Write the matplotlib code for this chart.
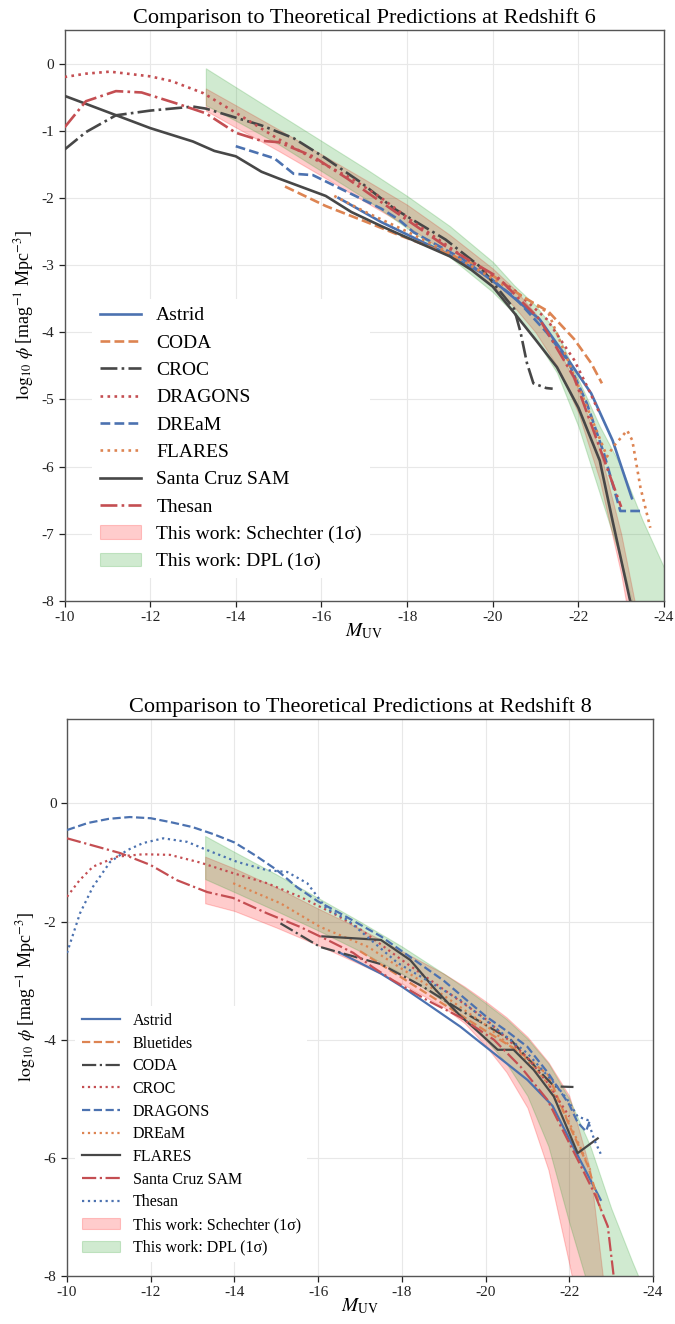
import matplotlib
matplotlib.use("Agg")
import matplotlib.pyplot as plt
import numpy as np

plt.rcParams['font.family'] = ['Liberation Serif', 'DejaVu Serif']
plt.rcParams['mathtext.fontset'] = 'stix'
plt.rcParams['axes.unicode_minus'] = False

BLUE = '#4C72B0'
ORANGE = '#DD8452'
RED = '#C44E52'
DARK = '#474747'

# ---------------- Redshift 6 data ----------------
z6_astrid_M = [-16.4, -17.4, -18.9, -19.9, -21.1, -21.7, -22.3, -22.8, -23.25]
z6_astrid_phi = [-2.0, -2.36, -2.82, -3.17, -3.81, -4.35, -4.91, -5.61, -6.47]
z6_coda_M = [-15.15, -16.1, -17.1, -17.8, -18.5, -19.7, -20.7, -21.3, -21.9, -22.3, -22.55]
z6_coda_phi = [-1.83, -2.12, -2.37, -2.55, -2.72, -3.02, -3.47, -3.69, -4.1, -4.46, -4.76]
z6_croc_M = [-10, -10.5, -11.2, -12, -13, -13.3, -14.6, -15.35, -16.1, -16.9, -17.7, -18.9,
             -19.7, -20.5, -20.65, -20.8, -20.95, -21.25, -21.4]
z6_croc_phi = [-1.28, -1.02, -0.77, -0.70, -0.64, -0.67, -0.92, -1.11, -1.41, -1.76, -2.16, -2.62,
               -3.02, -3.65, -4.0, -4.46, -4.76, -4.83, -4.84]
z6_dragons_M = [-10, -10.5, -11.06, -12, -12.5, -13.24, -14.1, -14.96, -15.8, -16.7, -17.4, -18.15,
                -19.3, -20.5, -21.27, -21.9, -22.2, -22.5]
z6_dragons_phi = [-0.2, -0.15, -0.12, -0.19, -0.26, -0.44, -0.77, -1.11, -1.41, -1.71, -2.0, -2.36,
                  -2.87, -3.37, -3.81, -4.41, -4.8, -5.21]
z6_dream_M = [-14.0, -14.9, -15.35, -15.8, -16.6, -17.4, -17.8, -18.15, -19.3, -20.5, -21.27,
              -21.74, -22.2, -22.6, -22.98, -23.5]
z6_dream_phi = [-1.23, -1.41, -1.64, -1.66, -1.91, -2.16, -2.32, -2.51, -2.91, -3.47, -4.01,
                -4.41, -5.06, -5.81, -6.66, -6.66]
z6_flares_M = [-16.3, -17.0, -18.0, -18.9, -20.0, -21.3, -22.04, -22.67, -22.82, -23.14, -23.26, -23.45, -23.68]
z6_flares_phi = [-1.97, -2.2, -2.5, -2.79, -3.2, -3.71, -4.86, -5.85, -5.7, -5.46, -5.61, -6.31, -6.91]
z6_scsam_M = [-10, -10.67, -12, -12.7, -13, -13.5, -14, -14.6, -15, -16.1, -16.7, -17.4, -18, -19,
              -19.5, -20, -20.5, -21, -21.5, -22, -22.5, -22.8, -23.2, -23.4]
z6_scsam_phi = [-0.48, -0.64, -0.96, -1.10, -1.16, -1.30, -1.38, -1.61, -1.71, -1.97, -2.21, -2.42,
                -2.59, -2.87, -3.07, -3.32, -3.71, -4.11, -4.52, -5.12, -5.91, -6.81, -7.97, -8.4]
z6_thesan_M = [-10, -10.5, -11.2, -11.8, -12.6, -13.3, -14.0, -14.6, -15.0, -15.8, -16.6, -17.8,
               -18.9, -20.1, -21.1, -21.9, -22.5, -23.0]
z6_thesan_phi = [-0.95, -0.56, -0.41, -0.43, -0.59, -0.74, -1.03, -1.15, -1.17, -1.38, -1.71, -2.24,
                 -2.72, -3.17, -3.81, -4.67, -5.72, -6.6]

z6_band_M = [-13.3, -14, -15, -16, -17, -18, -19, -20, -20.5, -21, -21.5, -22, -22.5, -23, -23.5, -24]
z6_dpl_hi = [-0.07, -0.35, -0.75, -1.15, -1.55, -1.97, -2.42, -2.95, -3.3, -3.6, -4.0, -4.7, -5.4, -6.0, -6.8, -7.5]
z6_dpl_lo = [-0.62, -0.85, -1.2, -1.6, -2.0, -2.45, -2.88, -3.4, -3.72, -4.1, -4.6, -5.4, -6.4, -7.4, -8.6, -9.8]
z6_sch_hi = [-0.37, -0.62, -0.98, -1.35, -1.72, -2.1, -2.55, -3.05, -3.35, -3.72, -4.2, -4.85, -5.75, -7.0, -8.6, -10.5]
z6_sch_lo = [-0.7, -0.95, -1.3, -1.67, -2.05, -2.42, -2.85, -3.3, -3.62, -4.0, -4.5, -5.2, -6.2, -7.6, -9.4, -11.5]

# ---------------- Redshift 8 data ----------------
z8_astrid_M = [-16.5, -17, -17.5, -18, -18.6, -19.4, -20.2, -21.0, -21.6, -22.1, -22.75]
z8_astrid_phi = [-2.52, -2.7, -2.88, -3.1, -3.39, -3.78, -4.23, -4.68, -5.12, -5.82, -6.71]
z8_bluetides_M = [-17, -18, -19, -20, -20.8, -21.5, -22, -22.45, -22.75]
z8_bluetides_phi = [-2.5, -2.95, -3.4, -3.85, -4.2, -4.6, -5.45, -6.14, -6.87]
z8_coda_M = [-15.1, -16.05, -17.5, -18.5, -19.4, -20.6, -21.24, -21.64, -22.1]
z8_coda_phi = [-2.03, -2.43, -2.72, -3.1, -3.5, -4.0, -4.5, -4.79, -4.8]
z8_croc_M = [-10, -10.3, -10.62, -11.2, -11.82, -12.46, -13.18, -13.97, -14.78, -15.57, -16.36,
             -16.93, -18, -19, -20, -21, -21.5, -22]
z8_croc_phi = [-1.58, -1.3, -1.07, -0.9, -0.86, -0.87, -1.0, -1.18, -1.35, -1.58, -1.86,
               -2.09, -2.65, -3.15, -3.65, -4.3, -4.75, -5.3]
z8_dragons_M = [-10, -10.5, -11, -11.5, -12, -12.5, -13, -13.5, -14, -14.5, -15, -15.5, -16, -16.5,
                -17, -17.5, -18, -18.5, -19, -19.5, -20, -20.5, -21, -21.5, -22, -22.2, -22.4, -22.5]
z8_dragons_phi = [-0.45, -0.33, -0.26, -0.23, -0.25, -0.32, -0.4, -0.52, -0.66, -0.88, -1.12, -1.42,
                  -1.66, -1.85, -2.05, -2.25, -2.5, -2.75, -3.0, -3.3, -3.6, -3.85, -4.12, -4.57,
                  -5.1, -5.4, -5.55, -5.35]
z8_dream_M = [-13.97, -15.1, -16.05, -17.2, -18, -19, -20, -21, -21.5, -22, -22.5]
z8_dream_phi = [-1.35, -1.69, -2.09, -2.43, -2.8, -3.25, -3.75, -4.35, -4.75, -5.4, -6.2]
z8_flares_M = [-16.1, -16.8, -17.5, -18.2, -18.8, -19.4, -19.8, -20.29, -20.67, -21.15, -21.63,
               -22.2, -22.68]
z8_flares_phi = [-2.25, -2.28, -2.31, -2.65, -3.15, -3.6, -3.85, -4.17, -4.17, -4.51, -4.96,
                 -5.92, -5.67]
z8_scsam_M = [-10, -11.27, -11.99, -12.63, -13.35, -13.97, -14.78, -15.57, -16.22, -16.84, -17.3,
              -17.8, -18.6, -19.4, -20.2, -20.84, -21.48, -21.8, -22.2, -22.6, -22.92, -23.06]
z8_scsam_phi = [-0.59, -0.84, -1.04, -1.3, -1.5, -1.6, -1.86, -2.09, -2.31, -2.53, -2.77,
                -3.0, -3.33, -3.62, -4.0, -4.46, -5.02, -5.47, -6.03, -6.6, -7.16, -8.0]
z8_thesan_M = [-10, -10.31, -10.62, -11.03, -11.44, -11.82, -12.3, -12.87, -13.35, -14.07, -14.78,
               -15.26, -15.74, -16.2, -16.7, -17.9, -19.4, -20.2, -21.0, -21.72, -21.96, -22.2,
               -22.44, -22.6, -22.75]
z8_thesan_phi = [-2.53, -1.86, -1.41, -0.99, -0.79, -0.67, -0.59, -0.65, -0.79, -0.99, -1.13,
                 -1.16, -1.35, -1.78, -1.97, -2.7, -3.33, -3.78, -4.23, -4.8, -5.02, -5.3,
                 -5.36, -5.7, -5.93]

z8_band_M = [-13.3, -14, -15, -16, -17, -18, -19, -19.5, -20, -20.5, -21, -21.5, -22, -22.5, -23, -23.5, -24]
z8_dpl_hi = [-0.55, -0.82, -1.2, -1.6, -2.0, -2.42, -2.88, -3.12, -3.38, -3.65, -3.98, -4.4, -5.0, -5.8, -6.85, -7.75, -8.6]
z8_dpl_lo = [-1.28, -1.5, -1.82, -2.15, -2.5, -2.88, -3.35, -3.65, -4.0, -4.4, -4.95, -5.8, -7.1, -8.3, -9.6, -11, -12.5]
z8_sch_hi = [-0.9, -1.1, -1.42, -1.78, -2.12, -2.5, -2.88, -3.1, -3.35, -3.62, -3.95, -4.38, -4.95, -6.2, -9.2, -12, -14]
z8_sch_lo = [-1.69, -1.82, -2.1, -2.4, -2.72, -3.05, -3.45, -3.72, -4.1, -4.55, -5.15, -6.2, -7.8, -9.5, -12, -14, -16]

xticks = [-10, -12, -14, -16, -18, -20, -22, -24]

fig = plt.figure(figsize=(6.75, 13.24), dpi=100)
ax1 = fig.add_axes([64.5 / 675, (1324 - 601) / 1324, (664 - 64.5) / 675, (601 - 30) / 1324])
ax2 = fig.add_axes([67 / 675, (1324 - 1276) / 1324, (653 - 67) / 675, (1276 - 719) / 1324])


def style_axes(ax, ylim, yticks, title):
    ax.set_xlim(-10, -24)
    ax.set_ylim(*ylim)
    ax.set_xticks(xticks)
    ax.set_xticklabels([str(t) for t in xticks])
    ax.set_yticks(yticks)
    ax.set_yticklabels([str(t) for t in yticks])
    ax.grid(True, color='#e8e8e8', lw=0.8, zorder=0)
    ax.set_axisbelow(True)
    ax.tick_params(direction='out', length=4, width=0.9, labelsize=11, colors='#222222',
                   top=False, right=False)
    for s in ax.spines.values():
        s.set_color('#555555')
        s.set_linewidth(1.0)
    ax.set_xlabel(r'$M_{\rm UV}$', fontsize=14, labelpad=-2)
    ax.set_ylabel(r'$\log_{10}\,\phi$ [mag$^{-1}$ Mpc$^{-3}$]', fontsize=13, labelpad=4)
    ax.set_title(title, fontsize=16, pad=5)


def add_legend(ax, anchor, fs, spacing, hl):
    hs, ls = ax.get_legend_handles_labels()
    order = list(range(2, len(hs))) + [0, 1]
    leg = ax.legend([hs[i] for i in order], [ls[i] for i in order], loc='upper left',
                    bbox_to_anchor=anchor, borderaxespad=0,
                    fontsize=fs, frameon=True, facecolor='white', edgecolor='none', framealpha=1,
                    handlelength=hl, handletextpad=0.8, labelspacing=spacing, borderpad=0.4)
    leg.set_zorder(5)
    return leg


# ---------- top panel ----------
lw1 = 1.9
ax1.fill_between(z6_band_M, z6_sch_lo, z6_sch_hi, color='red', alpha=0.2, lw=0.8,
                 label='This work: Schechter (1σ)', zorder=2)
ax1.fill_between(z6_band_M, z6_dpl_lo, z6_dpl_hi, color='tab:green', alpha=0.22, lw=0.8,
                 label='This work: DPL (1σ)', zorder=2)
ax1.plot(z6_astrid_M, z6_astrid_phi, color=BLUE, ls='-', lw=lw1, label='Astrid', zorder=3)
ax1.plot(z6_coda_M, z6_coda_phi, color=ORANGE, ls='--', lw=lw1, label='CODA', zorder=3)
ax1.plot(z6_croc_M, z6_croc_phi, color=DARK, ls='-.', lw=lw1, label='CROC', zorder=3)
ax1.plot(z6_dragons_M, z6_dragons_phi, color=RED, ls=':', lw=lw1, label='DRAGONS', zorder=3)
ax1.plot(z6_dream_M, z6_dream_phi, color=BLUE, ls='--', lw=lw1, label='DREaM', zorder=3)
ax1.plot(z6_flares_M, z6_flares_phi, color=ORANGE, ls=':', lw=lw1, label='FLARES', zorder=3)
ax1.plot(z6_scsam_M, z6_scsam_phi, color=DARK, ls='-', lw=lw1, label='Santa Cruz SAM', zorder=3)
ax1.plot(z6_thesan_M, z6_thesan_phi, color=RED, ls='-.', lw=lw1, label='Thesan', zorder=3)
style_axes(ax1, (-8, 0.5), [0, -1, -2, -3, -4, -5, -6, -7, -8],
           'Comparison to Theoretical Predictions at Redshift 6')
add_legend(ax1, (0.046, 0.529), 14, 0.5, 2.1)

# ---------- bottom panel ----------
lw2 = 1.6
ax2.fill_between(z8_band_M, z8_sch_lo, z8_sch_hi, color='red', alpha=0.2, lw=0.8,
                 label='This work: Schechter (1σ)', zorder=2)
ax2.fill_between(z8_band_M, z8_dpl_lo, z8_dpl_hi, color='tab:green', alpha=0.22, lw=0.8,
                 label='This work: DPL (1σ)', zorder=2)
ax2.plot(z8_astrid_M, z8_astrid_phi, color=BLUE, ls='-', lw=lw2, label='Astrid', zorder=3)
ax2.plot(z8_bluetides_M, z8_bluetides_phi, color=ORANGE, ls='--', lw=lw2, label='Bluetides', zorder=3)
ax2.plot(z8_coda_M, z8_coda_phi, color=DARK, ls='-.', lw=lw2, label='CODA', zorder=3)
ax2.plot(z8_croc_M, z8_croc_phi, color=RED, ls=':', lw=lw2, label='CROC', zorder=3)
ax2.plot(z8_dragons_M, z8_dragons_phi, color=BLUE, ls='--', lw=lw2, label='DRAGONS', zorder=3)
ax2.plot(z8_dream_M, z8_dream_phi, color=ORANGE, ls=':', lw=lw2, label='DREaM', zorder=3)
ax2.plot(z8_flares_M, z8_flares_phi, color=DARK, ls='-', lw=lw2, label='FLARES', zorder=3)
ax2.plot(z8_scsam_M, z8_scsam_phi, color=RED, ls='-.', lw=lw2, label='Santa Cruz SAM', zorder=3)
ax2.plot(z8_thesan_M, z8_thesan_phi, color=BLUE, ls=':', lw=lw2, label='Thesan', zorder=3)
style_axes(ax2, (-8, 1.43), [0, -2, -4, -6, -8],
           'Comparison to Theoretical Predictions at Redshift 8')
add_legend(ax2, (0.014, 0.484), 11.5, 0.42, 2.4)

fig.savefig('out.png', dpi=100)
